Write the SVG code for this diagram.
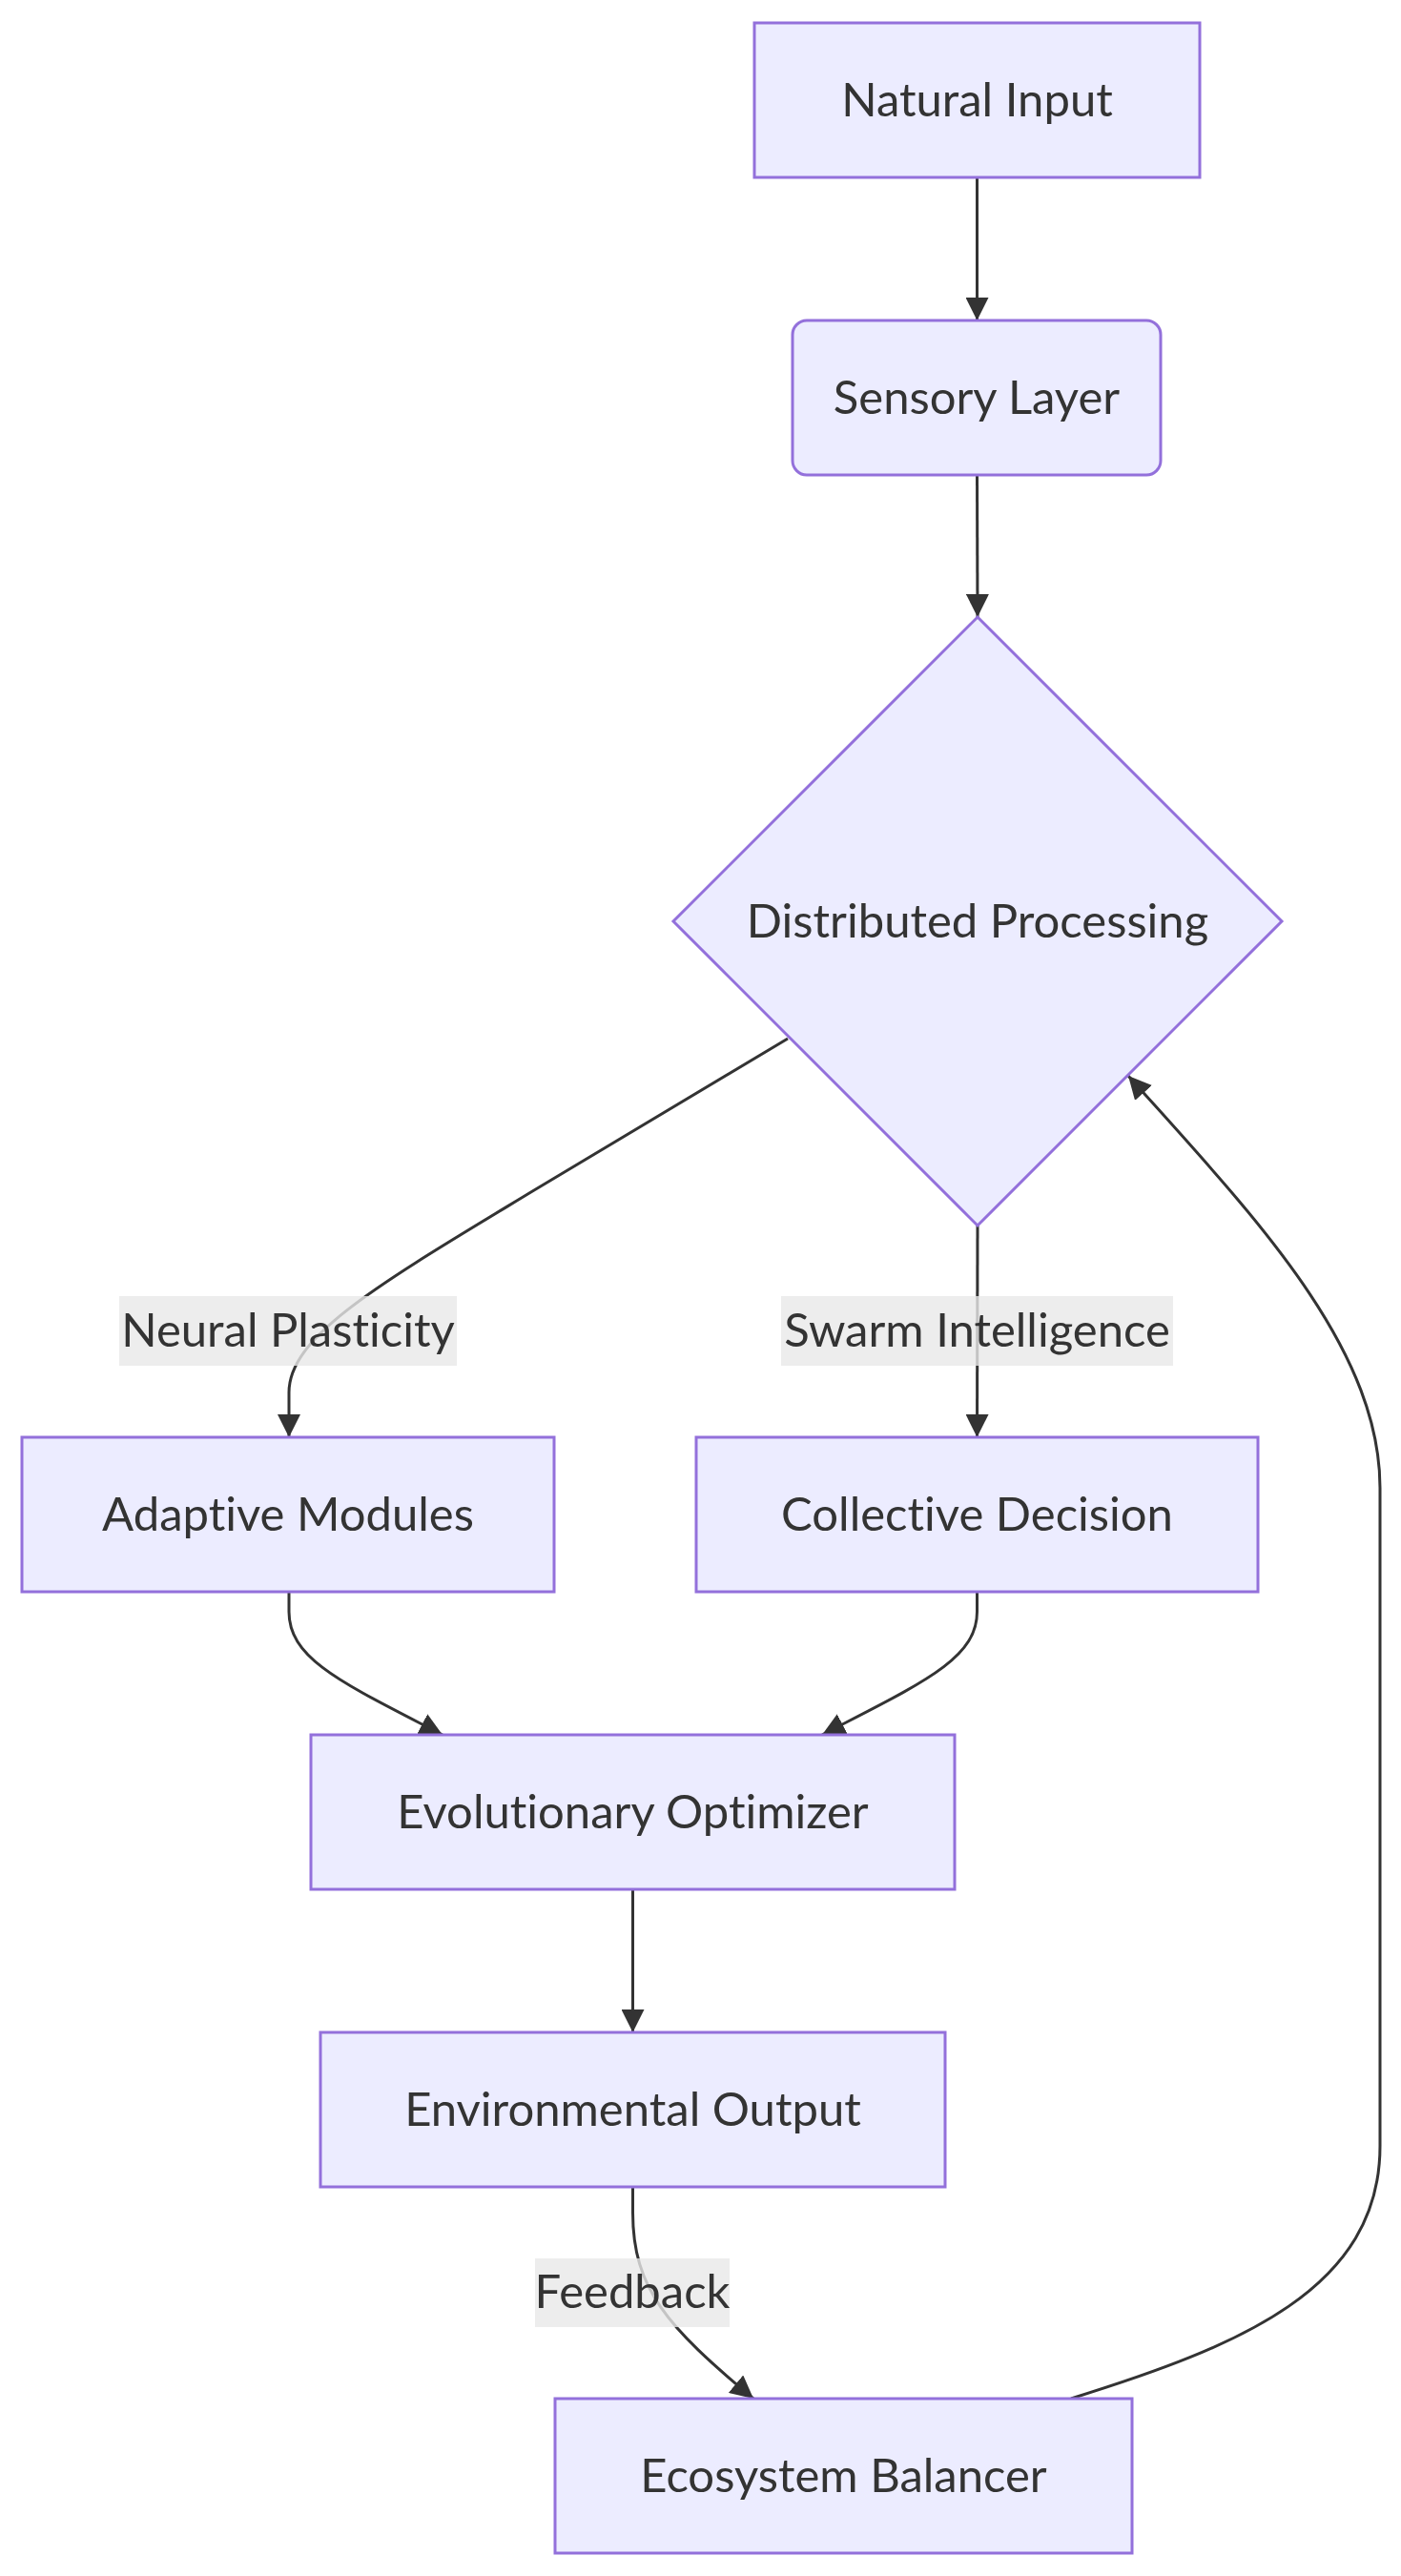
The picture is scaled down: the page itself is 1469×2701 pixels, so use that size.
<svg xmlns="http://www.w3.org/2000/svg" width="1469" height="2701" viewBox="0 0 1469 2701">
<style>
.node rect, .node polygon { fill: #ECECFF; stroke: #9370DB; stroke-width: 3; }
.node text, .lbl text { font-family: Lato, "Liberation Sans", sans-serif; font-size: 49px; fill: #333333; text-anchor: middle; font-variant-ligatures: none; }
.edge { fill: none; stroke: #333333; stroke-width: 3; }
.lbl rect { fill: rgba(232,232,232,0.8); }
</style>
<defs>
<marker id="arrow" viewBox="0 0 10 10" refX="10" refY="5" markerUnits="userSpaceOnUse" markerWidth="24" markerHeight="24" orient="auto">
<path d="M0,0 L10,5 L0,10 z" fill="#333333"/>
</marker>
</defs>
<rect width="1469" height="2701" fill="#ffffff"/>
<g id="connectors">
<path class="edge" marker-end="url(#arrow)" d="M1024.5,186 L1024.5,336"/>
<path class="edge" marker-end="url(#arrow)" d="M1024.5,498 L1025,647"/>
<path class="edge" marker-end="url(#arrow)" d="M826,1089 L560,1248 C400,1345 303,1400 303,1460 L303,1507"/>
<path class="edge" marker-end="url(#arrow)" d="M1025,1285 L1024.5,1507"/>
<path class="edge" marker-end="url(#arrow)" d="M303,1669 L303,1690 C303,1740 360,1765 464,1819"/>
<path class="edge" marker-end="url(#arrow)" d="M1024.5,1669 L1024.5,1690 C1024.5,1740 966,1765 862,1819"/>
<path class="edge" marker-end="url(#arrow)" d="M663.5,1981 L663.5,2131"/>
<path class="edge" marker-end="url(#arrow)" d="M663.5,2293 L663.5,2320 C663.5,2400 700,2440 790,2515"/>
<path class="edge" marker-end="url(#arrow)" d="M1123,2515 C1300,2460 1447,2400 1447,2250 L1447,1560 C1447,1410 1310,1270 1183,1128"/>
</g>
<g id="edge-labels">
<g class="lbl" id="label-neural"><rect x="125" y="1359" width="354" height="73"/><text x="302" y="1412">Neural Plasticity</text></g>
<g class="lbl" id="label-swarm"><rect x="819" y="1359" width="411" height="73"/><text x="1024.5" y="1412">Swarm Intelligence</text></g>
<g class="lbl" id="label-feedback"><rect x="561" y="2368" width="204" height="72"/><text x="663" y="2420">Feedback</text></g>
</g>
<g class="node" id="natural-input"><rect x="791" y="24" width="467" height="162"/><text x="1024.5" y="121.5">Natural Input</text></g>
<g class="node" id="sensory-layer"><rect x="831" y="336" width="386" height="162" rx="15" ry="15"/><text x="1024" y="433.5">Sensory Layer</text></g>
<g class="node" id="distributed-processing"><polygon points="1025,647 1344,966 1025,1285 706,966"/><text x="1025" y="983">Distributed Processing</text></g>
<g class="node" id="adaptive-modules"><rect x="23" y="1507" width="558" height="162"/><text x="302" y="1604.5">Adaptive Modules</text></g>
<g class="node" id="collective-decision"><rect x="730" y="1507" width="589" height="162"/><text x="1024.5" y="1604.5">Collective Decision</text></g>
<g class="node" id="evolutionary-optimizer"><rect x="326" y="1819" width="675" height="162"/><text x="663.5" y="1916.5">Evolutionary Optimizer</text></g>
<g class="node" id="environmental-output"><rect x="336" y="2131" width="655" height="162"/><text x="663.5" y="2228.5">Environmental Output</text></g>
<g class="node" id="ecosystem-balancer"><rect x="582" y="2515" width="605" height="162"/><text x="884.5" y="2612.5">Ecosystem Balancer</text></g>
</svg>
